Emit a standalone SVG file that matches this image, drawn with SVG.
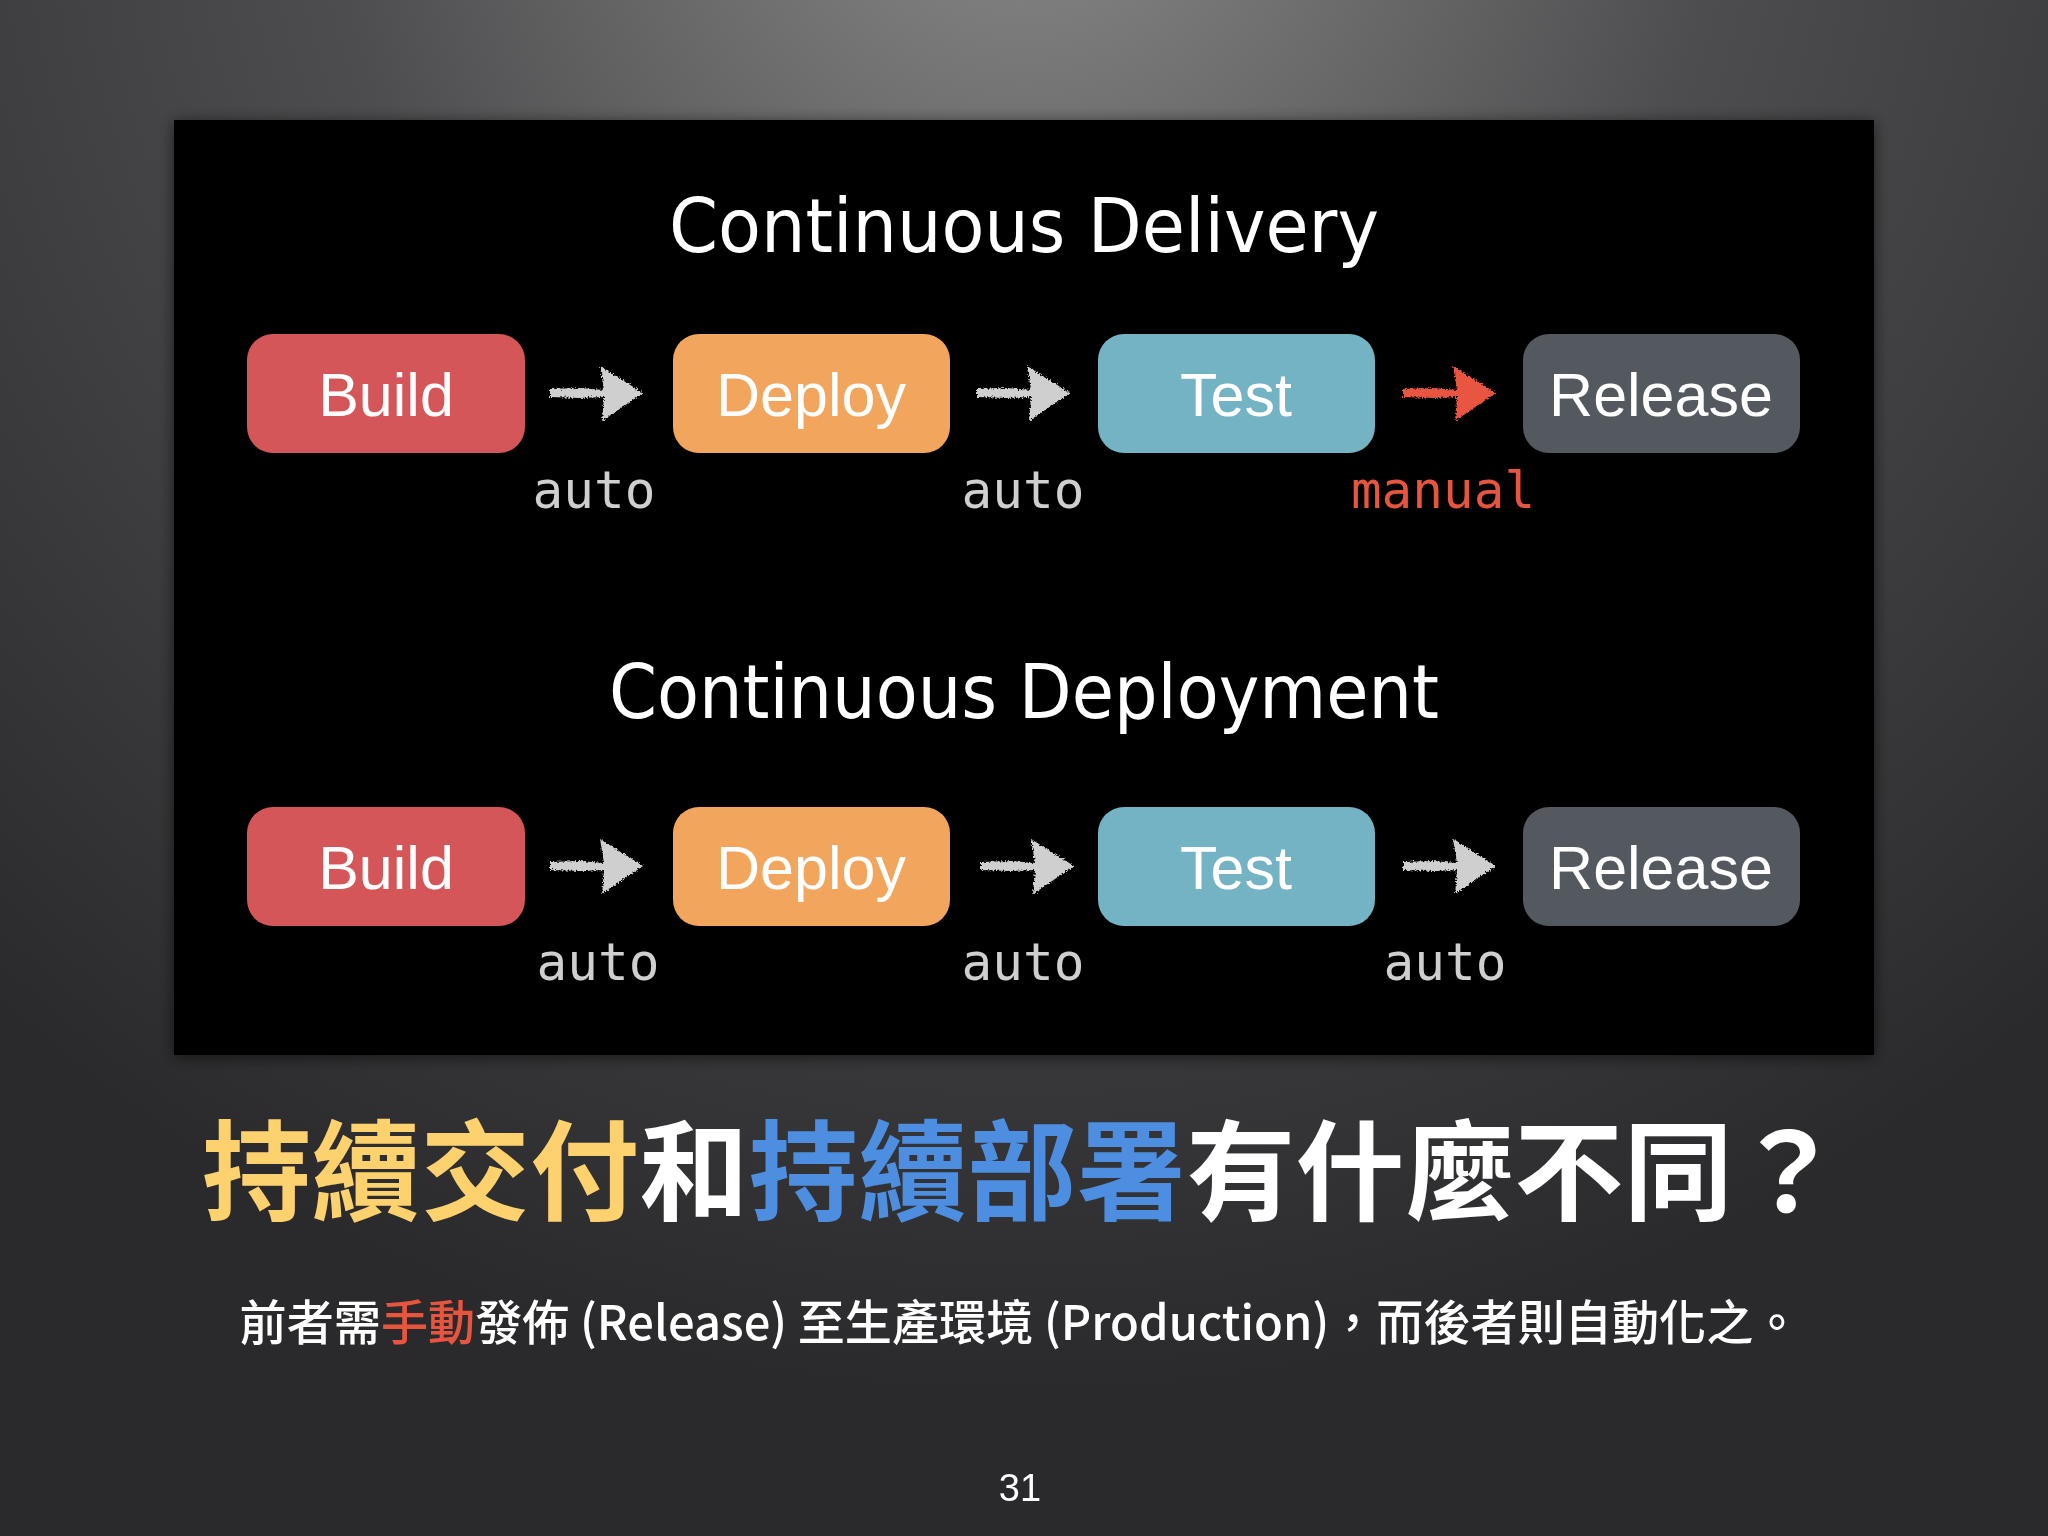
<svg xmlns="http://www.w3.org/2000/svg" width="2048" height="1536" viewBox="0 0 2048 1536">
<style>
.box{stroke:none}
.bt{font-family:"Liberation Sans",Arial,sans-serif;font-size:61px;fill:#ffffff;text-anchor:middle}
.title{font-family:"DejaVu Sans",sans-serif;font-size:74px;fill:#ffffff;text-anchor:middle}
.lab{font-family:"DejaVu Sans Mono","Liberation Mono",monospace;font-size:51px;fill:#cfcfcf;text-anchor:middle}
.man{fill:#e8553f}
.cjk{font-family:"Noto Sans CJK TC","Noto Sans CJK SC",sans-serif}
</style>
<defs>
<radialGradient id="bg" gradientUnits="userSpaceOnUse" cx="1024" cy="-150" r="1550">
<stop offset="0" stop-color="#8a8a8a"/>
<stop offset="0.45" stop-color="#4d4d4f"/>
<stop offset="1" stop-color="#2a2a2c"/>
</radialGradient>
<filter id="shadow" x="-5%" y="-5%" width="110%" height="110%">
<feGaussianBlur in="SourceAlpha" stdDeviation="8"/>
<feOffset dx="0" dy="2"/>
<feComponentTransfer><feFuncA type="linear" slope="0.6"/></feComponentTransfer>
<feMerge><feMergeNode/><feMergeNode in="SourceGraphic"/></feMerge>
</filter>
<filter id="chalk" x="-20%" y="-30%" width="140%" height="160%">
<feTurbulence type="fractalNoise" baseFrequency="0.6" numOctaves="2" seed="3" result="n"/>
<feDisplacementMap in="SourceGraphic" in2="n" scale="5" xChannelSelector="R" yChannelSelector="G"/>
</filter>
<path id="arrow" d="M0,-4 L30,-5 L54,-3 L50,-27 L93,0 L52,28 L54,4 L30,5 L0,4 Z"/>
</defs>
<rect width="2048" height="1536" fill="url(#bg)"/>
<rect x="174" y="120" width="1700" height="935" fill="#000000" filter="url(#shadow)"/>

<text class="title" x="1024" y="252" textLength="710" lengthAdjust="spacingAndGlyphs">Continuous Delivery</text>
<text class="title" x="1024" y="718" textLength="830" lengthAdjust="spacingAndGlyphs">Continuous Deployment</text>

<g id="cd-build"><rect class="box" x="247" y="334" width="278" height="119" rx="26" fill="#d55658"/><text class="bt" x="386" y="416">Build</text></g>
<g id="cd-deploy"><rect class="box" x="673" y="334" width="277" height="119" rx="26" fill="#f2a65d"/><text class="bt" x="811" y="416">Deploy</text></g>
<g id="cd-test"><rect class="box" x="1098" y="334" width="277" height="119" rx="26" fill="#74b3c4"/><text class="bt" x="1236" y="416">Test</text></g>
<g id="cd-release"><rect class="box" x="1523" y="334" width="277" height="119" rx="26" fill="#545960"/><text class="bt" x="1661" y="416">Release</text></g>

<g id="cdp-build"><rect class="box" x="247" y="807" width="278" height="119" rx="26" fill="#d55658"/><text class="bt" x="386" y="889">Build</text></g>
<g id="cdp-deploy"><rect class="box" x="673" y="807" width="277" height="119" rx="26" fill="#f2a65d"/><text class="bt" x="811" y="889">Deploy</text></g>
<g id="cdp-test"><rect class="box" x="1098" y="807" width="277" height="119" rx="26" fill="#74b3c4"/><text class="bt" x="1236" y="889">Test</text></g>
<g id="cdp-release"><rect class="box" x="1523" y="807" width="277" height="119" rx="26" fill="#545960"/><text class="bt" x="1661" y="889">Release</text></g>

<g id="connectors" filter="url(#chalk)">
<use href="#arrow" x="550" y="393" fill="#cfcfcf"/>
<use href="#arrow" x="977" y="393" fill="#cfcfcf"/>
<use href="#arrow" x="1403" y="393" fill="#e8553f"/>
<use href="#arrow" x="550" y="866" fill="#cfcfcf"/>
<use href="#arrow" x="981" y="866" fill="#cfcfcf"/>
<use href="#arrow" x="1403" y="866" fill="#cfcfcf"/>
</g>
<g id="labels">
<text class="lab" x="594" y="508">auto</text>
<text class="lab" x="1023" y="508">auto</text>
<text class="lab man" x="1443" y="508">manual</text>
<text class="lab" x="598" y="980">auto</text>
<text class="lab" x="1023" y="980">auto</text>
<text class="lab" x="1445" y="980">auto</text>
</g>

<text class="cjk" x="202" y="1212" font-size="109" font-weight="bold" fill="#ffffff" textLength="1640" lengthAdjust="spacing"><tspan fill="#fcd16e">持續交付</tspan>和<tspan fill="#4d8ee0">持續部署</tspan>有什麼不同？</text>
<text class="cjk" x="1020" y="1340" font-size="48" font-weight="500" fill="#ffffff" text-anchor="middle" textLength="1561" lengthAdjust="spacingAndGlyphs">前者需<tspan fill="#e8553f">手動</tspan>發佈 (Release) 至生產環境 (Production)，而後者則自動化之。</text>
<text x="1020" y="1501" font-family="Liberation Sans,Arial,sans-serif" font-size="38" fill="#ffffff" text-anchor="middle">31</text>
</svg>
